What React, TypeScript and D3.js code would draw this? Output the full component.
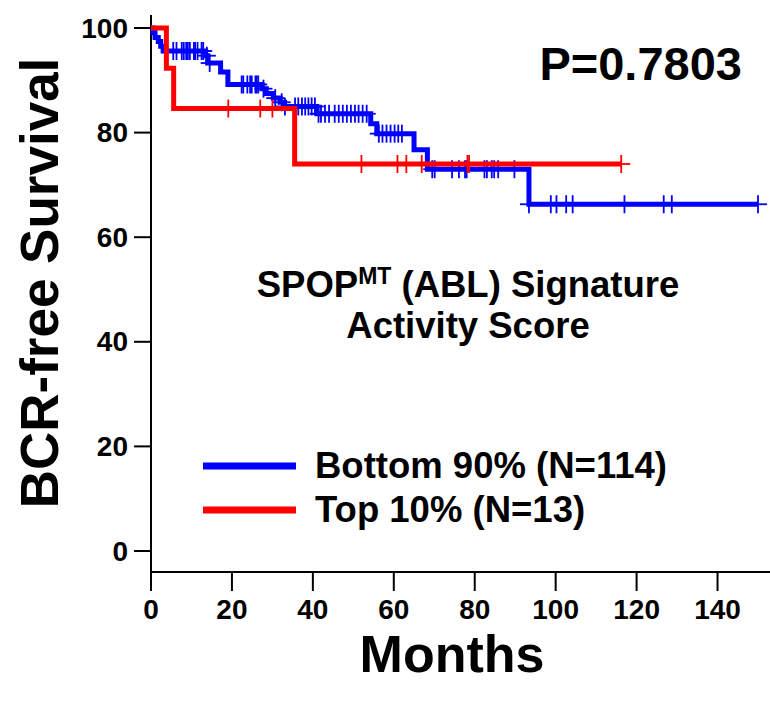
import React from 'react';
import * as d3 from 'd3';

// Kaplan-Meier steps (months, % surviving)
const blueTimes = [0, 0.5, 1.0, 1.8, 2.4, 3.0, 13.5, 14.0, 17.2, 19.0, 27.4, 28.5, 30.2, 31.9, 33.0, 41.0, 54.3, 55.8, 65.0, 68.3, 93.4];
const blueSurv = [100, 99.1, 98.2, 97.4, 96.5, 95.6, 94.7, 93.3, 91.6, 89.2, 88.4, 87.5, 86.6, 85.8, 85.0, 83.6, 81.7, 79.8, 76.7, 73.0, 66.3];
const blueEnd = 150;
const blueCensor = [5.5, 6.3, 7.6, 8.1, 8.7, 9.1, 9.6, 10.6, 10.9, 11.5, 12.5, 12.9, 13.8, 14.5, 22.4, 22.8, 23.8, 24.5, 24.9, 25.8, 26.1, 26.5, 27.8, 30.7, 32.3, 33.1, 35.6, 36.4, 37.3, 38.1, 38.9, 39.7, 40.5, 41.4, 42.0, 43.0, 44.0, 45.4, 46.4, 47.4, 48.4, 49.4, 50.4, 51.3, 52.3, 53.3, 56.3, 57.2, 58.2, 59.2, 60.2, 61.1, 62.0, 69.5, 70.1, 74.4, 76.1, 77.6, 78.0, 82.4, 83.0, 84.2, 84.8, 85.8, 89.8, 93.4, 98.8, 100.2, 102.6, 104.2, 117.0, 126.7, 128.7, 150];

const redTimes = [0, 3.8, 5.6, 35.5];
const redSurv = [100, 92.3, 84.6, 74.0];
const redEnd = 116.2;
const redCensor = [19.1, 27.0, 30.0, 52.0, 60.9, 63.1, 66.9, 78.2, 78.6, 116.2];

const yTicks = [0, 20, 40, 60, 80, 100];
const xTicks = [0, 20, 40, 60, 80, 100, 120, 140];

const BLUE = '#0000ff';
const RED = '#ff0000';
const FONT = '"Liberation Sans", Arial, Helvetica, sans-serif';

const x = d3.scaleLinear().domain([0, 150]).range([151, 758]);
const y = d3.scaleLinear().domain([0, 100]).range([551, 28]);

const stepLine = d3
  .line<[number, number]>()
  .x(d => x(d[0]))
  .y(d => y(d[1]))
  .curve(d3.curveStepAfter);

function pointsFor(times: number[], surv: number[], end: number): [number, number][] {
  const pts: [number, number][] = times.map((t, i) => [t, surv[i]]);
  pts.push([end, surv[surv.length - 1]]);
  return pts;
}

function survAt(times: number[], surv: number[], t: number) {
  let v = surv[0];
  for (let i = 0; i < times.length; i++) if (times[i] <= t) v = surv[i];
  return v;
}

function Curve({ times, surv, end, censor, color }: { times: number[]; surv: number[]; end: number; censor: number[]; color: string }) {
  return (
    <g>
      <path d={stepLine(pointsFor(times, surv, end)) || ''} fill="none" stroke={color} strokeWidth={5} strokeLinejoin="miter" />
      {censor.map((t, i) => {
        const cx = x(t);
        const cy = y(survAt(times, surv, t));
        return (
          <g key={i} stroke={color} strokeWidth={1.8}>
            <line x1={cx} x2={cx} y1={cy - 9} y2={cy + 9} />
            <line x1={cx - 9} x2={cx + 9} y1={cy} y2={cy} />
          </g>
        );
      })}
    </g>
  );
}

export default function App() {
  const axisY = 572;
  return (
    <svg width={770} height={708} style={{ position: 'absolute', left: 0, top: 0, background: '#fff' }} fontFamily={FONT}>
      {/* axes */}
      <g stroke="#000" strokeWidth={2} fill="none">
        <line x1={x(0)} x2={x(0)} y1={y(102.5)} y2={axisY + 19} />
        <line x1={x(0)} x2={770} y1={axisY} y2={axisY} />
        {yTicks.map(t => (
          <line key={t} x1={x(0) - 17} x2={x(0)} y1={y(t)} y2={y(t)} />
        ))}
        {xTicks.map(t => (
          <line key={t} x1={x(t)} x2={x(t)} y1={axisY} y2={axisY + 19} />
        ))}
      </g>
      <g fontSize={28} fontWeight="bold" fill="#000">
        {yTicks.map(t => (
          <text key={t} x={x(0) - 23} y={y(t)} textAnchor="end" dominantBaseline="central">
            {t}
          </text>
        ))}
        {xTicks.map(t => (
          <text key={t} x={x(t)} y={axisY + 37} textAnchor="middle" dominantBaseline="central">
            {t}
          </text>
        ))}
      </g>

      <Curve times={blueTimes} surv={blueSurv} end={blueEnd} censor={blueCensor} color={BLUE} />
      <Curve times={redTimes} surv={redSurv} end={redEnd} censor={redCensor} color={RED} />

      {/* titles */}
      <text transform="translate(58,283) rotate(-90)" textAnchor="middle" fontSize={53} fontWeight="bold">
        BCR-free Survival
      </text>
      <text x={452} y={672} textAnchor="middle" fontSize={52} fontWeight="bold">
        Months
      </text>
      <text x={742} y={80} textAnchor="end" fontSize={47} fontWeight="bold">
        P=0.7803
      </text>
      <text x={468} y={297} textAnchor="middle" fontSize={36.5} fontWeight="bold">
        SPOP<tspan fontSize={23} dy={-13}>MT</tspan>
        <tspan dy={13}> (ABL) Signature</tspan>
      </text>
      <text x={468} y={338} textAnchor="middle" fontSize={36.5} fontWeight="bold">
        Activity Score
      </text>

      {/* legend */}
      <line x1={203} x2={296} y1={466} y2={466} stroke={BLUE} strokeWidth={7} />
      <text x={315} y={478} fontSize={36.5} fontWeight="bold">
        Bottom 90% (N=114)
      </text>
      <line x1={203} x2={296} y1={510} y2={510} stroke={RED} strokeWidth={7} />
      <text x={315} y={522} fontSize={36.5} fontWeight="bold">
        Top 10% (N=13)
      </text>
    </svg>
  );
}
